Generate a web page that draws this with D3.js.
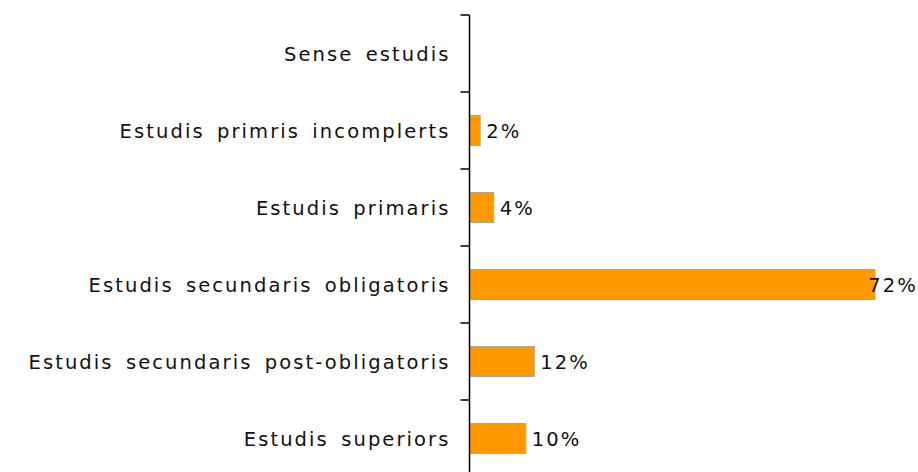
<!DOCTYPE html>
<html>
<head>
<meta charset="utf-8">
<script src="https://cdn.jsdelivr.net/npm/d3@7"></script>
<style>
    body { margin: 0; background: #fff; }
    svg { display: block; }
    .cat, .val { font-family: "Century Gothic", "DejaVu Sans", sans-serif; font-size: 19.5px; fill: #111; letter-spacing: 2.1px; word-spacing: 4px; }
</style>
</head>
<body>
<svg id="chart" width="918" height="472"></svg>
<script>
const categories = [
    "Sense estudis",
    "Estudis primris incomplerts",
    "Estudis primaris",
    "Estudis secundaris obligatoris",
    "Estudis secundaris post-obligatoris",
    "Estudis superiors"
]
const values = [0, 1.9, 4.3, 72.0, 11.5, 10.0]
const valueLabels = ["", "2%", "4%", "72%", "12%", "10%"]

const width = 918
const margin = { top: 15, left: 469.5 }

let svg = d3.select("#chart")

let y = d3.scaleBand()
    .domain(categories)
    .range([margin.top, margin.top + 77 * categories.length])
    .paddingInner(0.61)
    .paddingOuter(0.305)

let x = d3.scaleLinear()
    .domain([0, 72])
    .range([margin.left, margin.left + 405.5])

// bars
svg.append("g")
    .selectAll("rect")
    .data(values)
    .enter()
    .append("rect")
    .attr("x", x(0))
    .attr("y", (d, i) => y(categories[i]))
    .attr("width", (d) => x(d) - x(0))
    .attr("height", y.bandwidth())
    .attr("fill", "#ff9900")
    .attr("stroke", "#b0a590")
    .attr("stroke-width", 1)
    .style("display", (d) => (d > 0 ? null : "none"))

// value labels
svg.append("g")
    .selectAll("text")
    .data(values)
    .enter()
    .append("text")
    .attr("class", "val")
    .attr("y", (d, i) => y(categories[i]) + y.bandwidth() / 2)
    .attr("dy", "0.38em")
    .text((d, i) => valueLabels[i])
    .each(function (d) {
        let w = this.getComputedTextLength()
        d3.select(this).attr("x", Math.min(x(d) + 6, width - w))
    })

// axis
let axis = svg.append("g")
    .attr("transform", "translate(" + margin.left + ",0)")
axis.append("line")
    .attr("y1", margin.top)
    .attr("y2", margin.top + 77 * categories.length)
    .attr("stroke", "#000")
    .attr("stroke-width", 1.5)
axis.selectAll("line.tick")
    .data(d3.range(categories.length + 1))
    .enter()
    .append("line")
    .attr("class", "tick")
    .attr("x1", -9)
    .attr("x2", 0)
    .attr("y1", (i) => margin.top + y.step() * i)
    .attr("y2", (i) => margin.top + y.step() * i)
    .attr("stroke", "#000")
    .attr("stroke-width", 1.5)

// category labels
svg.append("g")
    .selectAll("text")
    .data(categories)
    .enter()
    .append("text")
    .attr("class", "cat")
    .attr("x", margin.left - 19)
    .attr("y", (d) => y(d) + y.bandwidth() / 2)
    .attr("dy", "0.38em")
    .attr("text-anchor", "end")
    .text((d) => d)
</script>
</body>
</html>
